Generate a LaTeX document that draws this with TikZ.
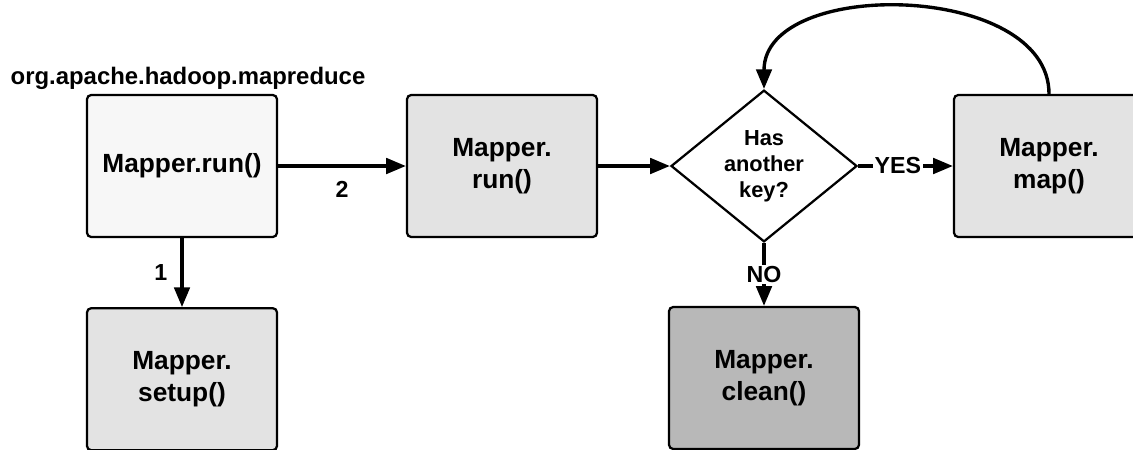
\documentclass[tikz,border=0pt]{standalone}
\usepackage{fontspec}
\setmainfont{Liberation Sans}
\usepackage{tikz}
\usetikzlibrary{shapes.geometric, arrows.meta}
\definecolor{lightbox}{HTML}{F7F7F7}
\definecolor{midbox}{HTML}{E3E3E3}
\definecolor{darkbox}{HTML}{B8B8B8}
\tikzstyle{method} = [rectangle, rounded corners=3pt, minimum width=4.75cm, minimum height=3.55cm, text centered, align=center, draw=black, line width=1.6pt, fill=midbox, font=\fontsize{18.7}{23}\selectfont\bfseries]
\tikzstyle{decision} = [diamond, minimum width=4.65cm, minimum height=3.5cm, inner sep=0pt, text centered, align=center, draw=black, line width=1.6pt, fill=white, font=\fontsize{15.5}{18.6}\selectfont\bfseries]
\tikzstyle{arrow} = [line width=2.4pt,-{Triangle[length=14pt,width=11pt]}]
\tikzstyle{lbl} = [font=\fontsize{16.5}{19}\selectfont\bfseries]

\begin{document}
\begin{tikzpicture}[node distance = 8cm]
    \useasboundingbox (0,0) rectangle (28.325,-11.225);
    \node (run) [method, fill=lightbox] at (4.55,-4.15) {Mapper.run()};
    \node (pkg) [lbl, font=\fontsize{17}{19}\selectfont\bfseries] at (4.7,-1.97) {org.apache.hadoop.mapreduce};
    \node (mrun) [method, right of=run]{Mapper.\\run()};
    \node (dec) [decision, right of=mrun, xshift=-1.45cm]{Has\\another\\key?};
    \node (map) [method, right of=dec, xshift=-0.875cm]{Mapper.\\map()};
    \node (setup) [method, below of=run, yshift=2.67cm]{Mapper.\\setup()};
    \node (clean) [method, fill=darkbox, below of=dec, yshift=2.7cm]{Mapper.\\clean()};
    \draw [arrow] (run) -- node[lbl, below=6pt]{2}(mrun);
    \draw [arrow] (run) -- node[lbl, left=6pt]{1}(setup);
    \draw [arrow] (mrun) -- (dec);
    \draw [arrow] (dec) -- node[lbl, fill=white, inner sep=1pt, pos=0.42]{YES}(map);
    \draw [arrow] (dec) -- node[lbl, fill=white, inner sep=1pt]{NO}(clean);
    \draw [arrow] (map.north) .. controls +(0,2.8) and +(0,2.8) .. (dec.north);
\end{tikzpicture}
\end{document}
